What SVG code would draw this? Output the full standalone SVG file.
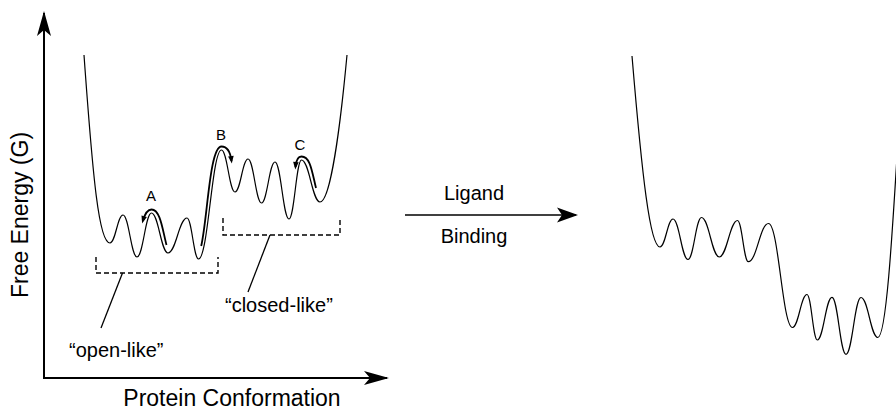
<svg xmlns="http://www.w3.org/2000/svg" width="896" height="412" viewBox="0 0 896 412">
  <style>
    .curve { fill: none; stroke: #000; stroke-width: 1.2; }
    .path-arrow { fill: none; stroke: #000; stroke-width: 1.8; marker-end: url(#tiny); }
    .axis { fill: none; stroke: #000; stroke-width: 2; marker-end: url(#stealth); }
    .bracket { fill: none; stroke: #000; stroke-width: 1.4; stroke-dasharray: 5 3; }
    .leader { fill: none; stroke: #000; stroke-width: 1.3; }
    text { font-family: "Liberation Sans", Arial, Helvetica, sans-serif; fill: #000; }
    .axis-label { font-size: 23px; text-anchor: middle; }
    .label { font-size: 20px; }
    .letter { font-size: 15px; text-anchor: middle; }
  </style>
  <defs>
    <marker id="stealth" markerUnits="userSpaceOnUse" viewBox="-26 -8 29 16" markerWidth="29" markerHeight="16" refX="0" refY="0" orient="auto">
      <path d="M2,0 L-23,-7 L-17,0 L-23,7 Z" fill="#000"/>
    </marker>
    <marker id="stealthSmall" markerUnits="userSpaceOnUse" viewBox="-22 -8 25 16" markerWidth="25" markerHeight="16" refX="0" refY="0" orient="auto">
      <path d="M2,0 L-19,-7.5 L-14,0 L-19,7.5 Z" fill="#000"/>
    </marker>
    <marker id="tiny" markerUnits="userSpaceOnUse" viewBox="-7 -4 10 8" markerWidth="10" markerHeight="8" refX="0" refY="0" orient="auto">
      <path d="M2.5,0 L-5,-2.8 L-5,2.8 Z" fill="#000"/>
    </marker>
  </defs>

  <!-- axes -->
  <g id="axes">
    <path class="axis" d="M44,379 V13"/>
    <path class="axis" d="M43,378 H387"/>
    <text class="axis-label" transform="translate(28,215) rotate(-90)">Free Energy (G)</text>
    <text class="axis-label" x="232" y="406">Protein Conformation</text>
  </g>

  <!-- unbound landscape -->
  <g id="landscape-unbound">
    <path class="curve" d="M84,55 C93,180 99,243 110,243
      C115.5,243 117.5,215 123,215
      C128.9,215 131.1,257 137,257
      C143.1,257 145.4,213 151.5,213
      C158.4,213 161.1,253 168,253
      C176,253 179,218 187,218
      C191.8,218 193.7,259 198.5,259
      C208.2,259 211.8,150 221.5,150
      C227.2,150 229.3,192 235,192
      C240.5,192 242.5,159 248,159
      C253.7,159 255.8,203 261.5,203
      C267.2,203 269.3,162 275,162
      C280.9,162 283.1,219 289,219
      C294.3,219 296.3,160 301.5,160
      C309.3,160 312.2,202 320,202
      C330,202 340,130 347,55"/>
  </g>

  <!-- transitions over barriers -->
  <g id="transition-A">
    <path class="path-arrow" d="M166.5,245 C162.5,230 160.5,209.5 151.5,209.5 C147,209.5 144.8,214 142.8,221"/>
    <text class="letter" x="151" y="201">A</text>
  </g>
  <g id="transition-B">
    <path class="path-arrow" d="M201.2,246 C207.5,219 209.5,146.5 221.5,146.5 C228,146.5 230.5,153 231.5,161"/>
    <text class="letter" x="221" y="140">B</text>
  </g>
  <g id="transition-C">
    <path class="path-arrow" d="M316,188 C312,172 310.5,156.5 301.5,156.5 C297.5,156.5 296,161 295.5,167"/>
    <text class="letter" x="300" y="150">C</text>
  </g>

  <!-- state groupings -->
  <g id="open-like">
    <path class="bracket" d="M96,257 V273 H218 V257"/>
    <text class="label" x="69" y="357">“open-like”</text>
  </g>
  <g id="closed-like">
    <path class="bracket" d="M223,218 V235 H340 V218"/>
    <text class="label" x="225" y="312">“closed-like”</text>
  </g>

  <!-- ligand binding step -->
  <g id="ligand-binding">
    <text class="label" x="474" y="200" text-anchor="middle">Ligand</text>
    <text class="label" x="474" y="243" text-anchor="middle">Binding</text>
  </g>

  <!-- bound landscape -->
  <g id="landscape-bound">
    <path class="curve" d="M632,56 C642,175 650,247 660,247
      C665.5,247 667.5,219 673,219
      C679.3,219 681.7,259.5 688,259.5
      C693.7,259.5 695.8,217.5 701.5,217.5
      C709,217.5 711.8,257 719.3,257
      C726.9,257 729.9,220.5 737.5,220.5
      C742,220.5 743.8,261.7 748.3,261.7
      C756.8,261.7 760,223.5 768.5,223.5
      C778.6,223.5 782.4,327.5 792.5,327.5
      C798.6,327.5 800.9,294.5 807,294.5
      C811.3,294.5 813,340 817.3,340
      C823.5,340 825.8,297.3 832,297.3
      C837.9,297.3 840.1,354.3 846,354.3
      C852.3,354.3 854.7,297.5 861,297.5
      C868.1,297.5 870.7,337.5 877.8,337.5
      C886,337.5 892,240 898,140"/>
  </g>

  <!-- connectors -->
  <g id="connectors">
    <path class="leader" d="M122.5,273 L101,328"/>
    <path class="leader" d="M270,235 L248,292"/>
    <path fill="none" stroke="#000" stroke-width="1.5" marker-end="url(#stealthSmall)" d="M405,215 H576"/>
  </g>
</svg>
